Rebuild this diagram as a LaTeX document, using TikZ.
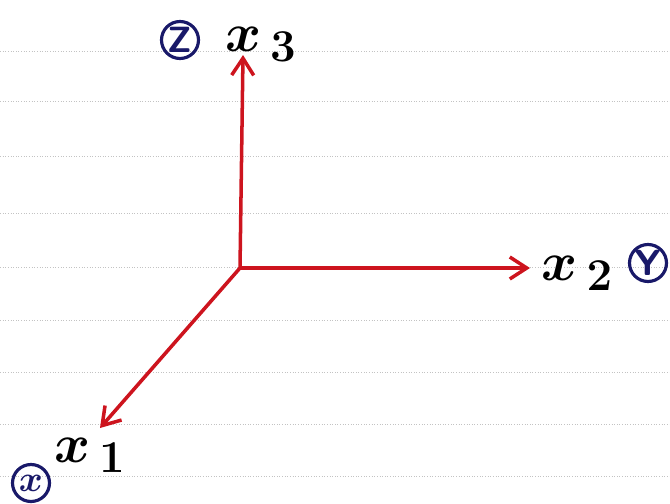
\documentclass[tikz,border=0pt]{standalone}
\usetikzlibrary{arrows.meta}

\definecolor{penred}{RGB}{205,20,30}
\definecolor{penblue}{RGB}{25,25,105}
\definecolor{ruleline}{RGB}{195,195,195}

\begin{document}
\begin{tikzpicture}[
  axisarrow/.style={-{Straight Barb[length=3.4mm,width=4.4mm,line width=2pt]},line width=2pt,penred},
  axislabel/.style={inner sep=1pt,font=\Huge\boldmath,transform shape,scale=1.25},
  circlab/.style={draw=penblue,circle,line width=1.8pt,minimum size=7.4mm,inner sep=0pt,text=penblue,font=\huge\sffamily\bfseries\boldmath},
  rule/.style={ruleline,line width=0.5pt,densely dotted}
]
  \useasboundingbox (0,0) rectangle (13.4,10.06);

  % ruled paper
  \foreach \py in {52,102,157,213,267,320,372,424,476}
    \draw[rule] (0,{(503-\py)*0.02}) -- (13.4,{(503-\py)*0.02});

  % axes
  \coordinate (O) at (4.8,4.7);
  \coordinate (tip3) at (4.86,8.96);
  \coordinate (tip2) at (10.6,4.7);
  \coordinate (tip1) at (2.0,1.5);

  \draw[axisarrow] (O) -- (tip3);
  \draw[axisarrow] (O) -- (tip2);
  \draw[axisarrow] (O) -- (tip1);

  % labels
  \node[axislabel] (lab3) at (5.22,9.18) {$x_{\,3}$};
  \node[axislabel] (lab2) at (11.55,4.6) {$x_{\,2}$};
  \node[axislabel] (lab1) at (1.8,0.95) {$x_{\,1}$};

  \node[circlab] (cz) at (3.6,9.26) {Z};
  \node[circlab] (cy) at (12.96,4.8) {Y};
  \node[circlab] (cx) at (0.62,0.4) {$x$};
\end{tikzpicture}
\end{document}
